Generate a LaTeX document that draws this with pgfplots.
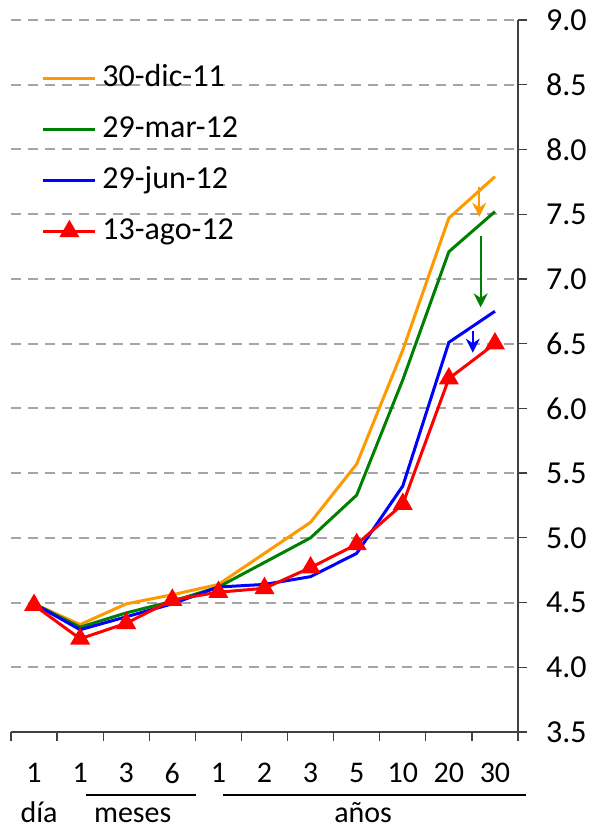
\documentclass[border=0pt]{standalone}
\usepackage{fontspec}
\setmainfont{Carlito}
\usepackage{pgfplots}
\pgfplotsset{compat=1.18}
\usetikzlibrary{arrows.meta}
\definecolor{cor}{RGB}{255,153,0}
\definecolor{cgr}{RGB}{0,128,0}
\definecolor{cbl}{RGB}{0,0,255}
\definecolor{crd}{RGB}{255,0,0}
\definecolor{grd}{RGB}{165,165,165}
\begin{document}
\begin{tikzpicture}
\begin{axis}[
 scale only axis, width=253.5pt, height=356pt,
 xmin=-0.5, xmax=10.5, ymin=3.5, ymax=9.0,
 axis x line*=bottom, axis y line*=right,
 axis line style={black!75, line width=0.6pt},
 xtick={-0.5,0.5,...,10.5}, xticklabels={},
 extra x ticks={0,1,2,3,4,5,6,7,8,9,10},
 extra x tick labels={1,1,3,6,1,2,3,5,10,20,30},
 extra x tick style={major tick length=0pt, grid=none},
 xticklabel style={font=\fontsize{15}{17}\selectfont, yshift=-12pt},
 ytick={3.5,4,4.5,5,5.5,6,6.5,7,7.5,8,8.5,9},
 yticklabel style={font=\fontsize{16}{19}\selectfont, xshift=6pt, /pgf/number format/.cd, fixed, fixed zerofill, precision=1, assume math mode=true},
 tick align=outside, major tick length=4.5pt,
 tick style={black!75, line width=0.6pt},
 ymajorgrids,
 grid style={grd, dash pattern=on 5pt off 3.5pt, line width=1pt},
 clip=false,
 legend cell align=left,
 legend image code/.code={\draw[mark repeat=2,mark phase=2,#1] plot coordinates {(0pt,0pt) (13pt,0pt) (26pt,0pt)};},
 legend style={draw=none, fill=none, at={(rel axis cs:0,1)}, anchor=north west, xshift=12.25pt, yshift=-17pt,
   font=\fontsize{16}{19}\selectfont, row sep=5.5pt,
   nodes={text height=12pt, text depth=4pt, inner ysep=2pt, inner xsep=2.75pt}},
]
\addplot[cor, line width=1.5pt] coordinates {(0,4.49) (1,4.33) (2,4.49) (3,4.56) (4,4.64) (5,4.88) (6,5.12) (7,5.57) (8,6.45) (9,7.47) (10,7.79)};
\addlegendentry{30-dic-11}
\addplot[cgr, line width=1.5pt] coordinates {(0,4.49) (1,4.31) (2,4.42) (3,4.51) (4,4.62) (5,4.81) (6,5.00) (7,5.33) (8,6.22) (9,7.21) (10,7.52)};
\addlegendentry{29-mar-12}
\addplot[cbl, line width=1.5pt] coordinates {(0,4.49) (1,4.29) (2,4.39) (3,4.49) (4,4.62) (5,4.64) (6,4.70) (7,4.88) (8,5.40) (9,6.51) (10,6.75)};
\addlegendentry{29-jun-12}
\addplot[crd, line width=1.5pt, mark=triangle*, mark size=4.3pt, mark options={solid}] coordinates {(0,4.48) (1,4.22) (2,4.34) (3,4.52) (4,4.58) (5,4.61) (6,4.77) (7,4.95) (8,5.26) (9,6.23) (10,6.50)};
\addlegendentry{13-ago-12}
\draw[cor, line width=1pt, -{Stealth[length=7pt,width=7pt]}] (axis cs:9.66,7.71) -- (axis cs:9.66,7.48);
\draw[cgr, line width=1pt, -{Stealth[length=7pt,width=7pt]}] (axis cs:9.69,7.33) -- (axis cs:9.69,6.78);
\draw[cbl, line width=1pt, -{Stealth[length=7pt,width=7pt]}] (axis cs:9.52,6.60) -- (axis cs:9.52,6.43);
\draw[black, line width=1pt] ([yshift=-31.5pt]axis cs:1.13,3.5) -- ([yshift=-31.5pt]axis cs:3.51,3.5);
\draw[black, line width=1pt] ([yshift=-31.5pt]axis cs:4.10,3.5) -- ([yshift=-31.5pt]axis cs:10.67,3.5);
\node[anchor=base, font=\fontsize{15}{17}\selectfont, inner sep=0pt] at ([yshift=-45pt]axis cs:0.11,3.5) {día};
\node[anchor=base, font=\fontsize{15}{17}\selectfont, inner sep=0pt] at ([yshift=-45pt]axis cs:2.14,3.5) {meses};
\node[anchor=base, font=\fontsize{15}{17}\selectfont, inner sep=0pt] at ([yshift=-45pt]axis cs:7.14,3.5) {años};
\coordinate (BL) at (rel axis cs:0,0);
\coordinate (TR) at (rel axis cs:1,1);
\end{axis}
\pgfresetboundingbox
\path[use as bounding box] ([xshift=-5.5pt,yshift=-48.5pt]BL) rectangle ([xshift=36.5pt,yshift=10pt]TR);
\end{tikzpicture}
\end{document}
